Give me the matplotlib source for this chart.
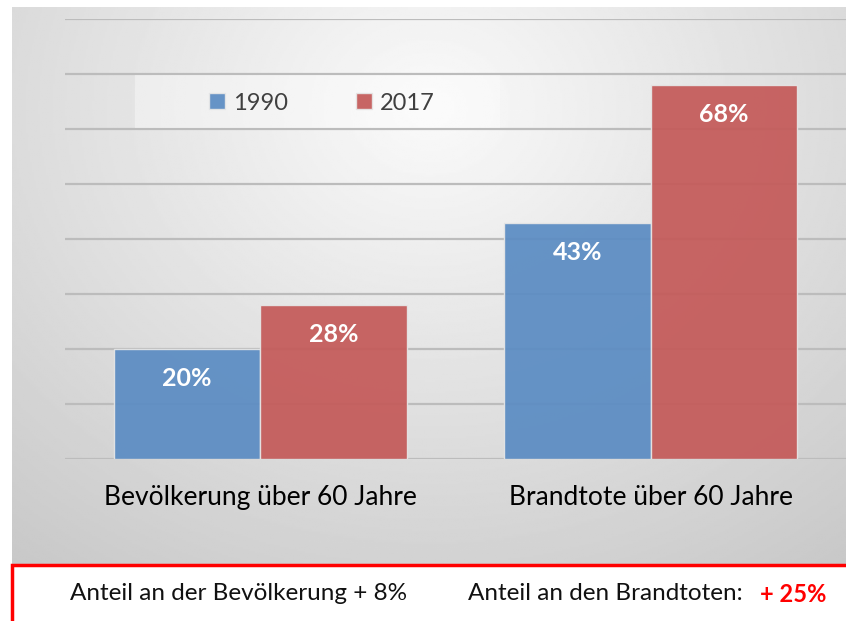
import numpy as np
import matplotlib
matplotlib.use("Agg")
import matplotlib.pyplot as plt
from matplotlib.patches import Rectangle

plt.rcParams['font.family'] = ['Lato', 'DejaVu Sans']

# data
categories = ["Bevölkerung über 60 Jahre", "Brandtote über 60 Jahre"]
series_names = ["1990", "2017"]
values_1990 = [0.20, 0.43]
values_2017 = [0.28, 0.68]
value_labels_1990 = ["20%", "43%"]
value_labels_2017 = ["28%", "68%"]
colors = ["#5b8cc3", "#c45a59"]

W, H = 846, 621
fig = plt.figure(figsize=(W / 100, H / 100), dpi=100)
fig.patch.set_facecolor("white")

def fx(px):
    return px / W

def fy(py):
    return 1 - py / H

# background panel with a soft radial gradient
bg = fig.add_axes([fx(12), fy(565), 1 - fx(12), fy(7) - fy(565)])
gx, gy = np.meshgrid(np.linspace(0, 1, 400), np.linspace(0, 1, 300))
r = np.sqrt(((gx - 0.5) / 0.75) ** 2 + ((gy - 0.18) / 0.95) ** 2)
shade = np.clip(0.98 - 0.18 * r, 0, 1)
bg.imshow(shade, cmap="gray", vmin=0, vmax=1, aspect="auto", extent=[0, 1, 1, 0])
bg.set_axis_off()

# main chart
ax = fig.add_axes([fx(65), fy(459), 1 - fx(65), fy(19) - fy(459)])
ax.set_facecolor("none")
x = np.arange(len(categories))
bw = 0.375
b1 = ax.bar(x - bw / 2, values_1990, bw, color=colors[0], alpha=0.93,
            edgecolor="#e6e6e6", linewidth=1, label=series_names[0], zorder=3)
b2 = ax.bar(x + bw / 2, values_2017, bw, color=colors[1], alpha=0.93,
            edgecolor="#e6e6e6", linewidth=1, label=series_names[1], zorder=3)

for bars, labels in [(b1, value_labels_1990), (b2, value_labels_2017)]:
    for rect, lab in zip(bars, labels):
        ax.annotate(lab, (rect.get_x() + rect.get_width() / 2, rect.get_height()),
                    xytext=(0, -30), textcoords="offset pixels",
                    ha="center", va="center", color="white",
                    fontsize=18, fontweight="bold", zorder=5)

ax.set_xlim(-0.5, 1.5)
ax.set_ylim(0, 0.8)
ax.set_yticks(np.arange(0, 0.81, 0.1))
ax.yaxis.grid(True, color="#bcbcbc", linewidth=1.6, zorder=1)
ax.set_axisbelow(True)
ax.set_yticklabels([])
ax.tick_params(axis="y", length=0)
ax.set_xticks(x)
ax.set_xticklabels(categories, fontsize=19, color="#000000")
ax.tick_params(axis="x", length=0, pad=19)
for s in ax.spines.values():
    s.set_visible(False)

# legend box
fig.patches.append(Rectangle((fx(135), fy(128)), fx(500) - fx(135), fy(75) - fy(128),
                             transform=fig.transFigure, facecolor="white",
                             alpha=0.35, edgecolor="none", zorder=2))
leg = fig.legend(handles=[b1, b2], labels=series_names, loc="center",
                 bbox_to_anchor=(fx(322), fy(103)), ncol=2, frameon=False,
                 fontsize=17, handlelength=0.65, handleheight=0.65,
                 handletextpad=0.35, columnspacing=2.9, labelcolor="#404040")

# bottom note box
fig.patches.append(Rectangle((fx(12), fy(640)), 1.0, fy(565) - fy(640),
                             transform=fig.transFigure, facecolor="white",
                             edgecolor="#ff0000", linewidth=2.5, zorder=3))
fig.text(fx(70), fy(594), "Anteil an der Bevölkerung + 8%", fontsize=17.5,
         ha="left", va="center", color="#111111")
fig.text(fx(468), fy(594), "Anteil an den Brandtoten:", fontsize=17.5,
         ha="left", va="center", color="#111111")
fig.text(fx(760), fy(594), "+ 25%", fontsize=17, fontweight="bold",
         ha="left", va="center", color="#ff0000")

fig.savefig("out.png", dpi=100)
